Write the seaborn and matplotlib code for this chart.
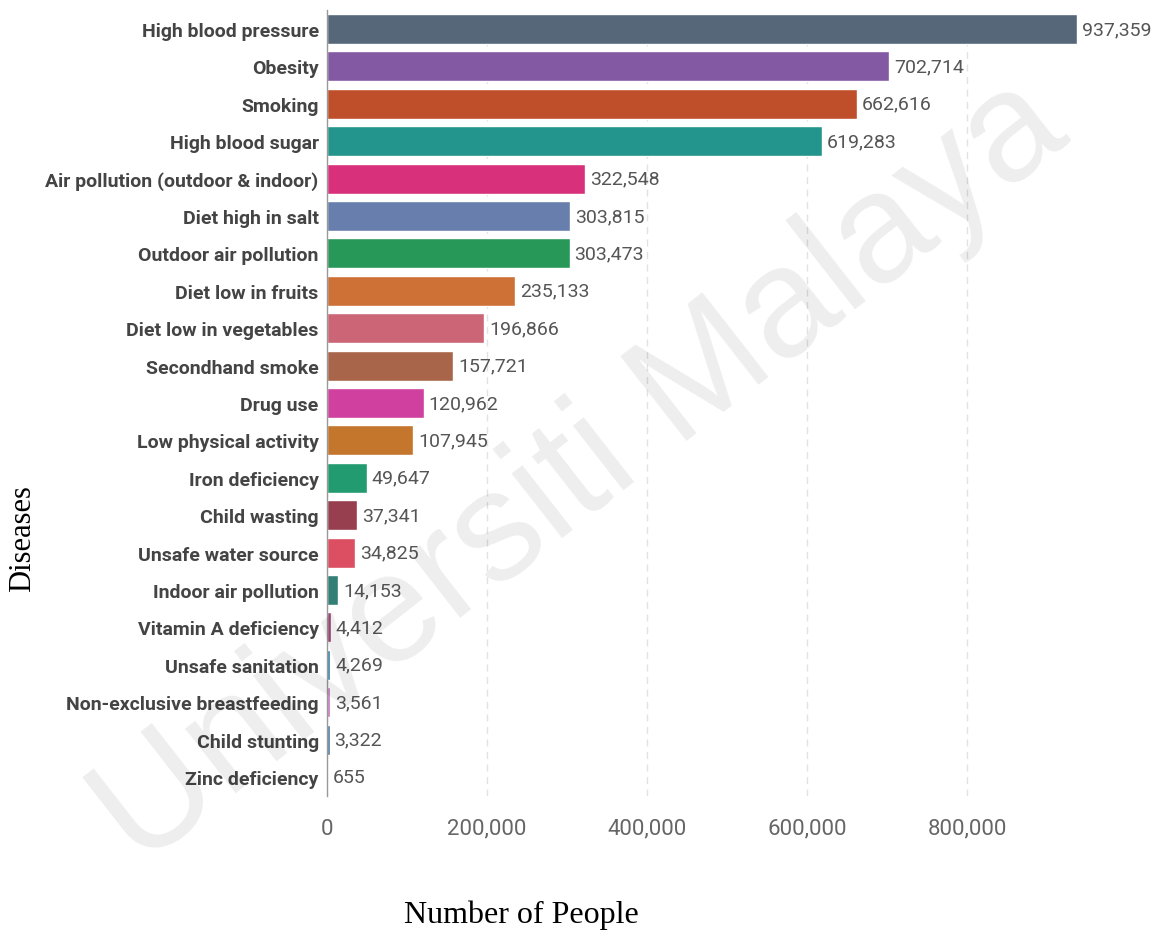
import matplotlib
matplotlib.use("Agg")
import matplotlib.pyplot as plt
import seaborn as sns
import pandas as pd

categories = ["High blood pressure", "Obesity", "Smoking", "High blood sugar",
              "Air pollution (outdoor & indoor)", "Diet high in salt", "Outdoor air pollution",
              "Diet low in fruits", "Diet low in vegetables", "Secondhand smoke", "Drug use",
              "Low physical activity", "Iron deficiency", "Child wasting", "Unsafe water source",
              "Indoor air pollution", "Vitamin A deficiency", "Unsafe sanitation",
              "Non-exclusive breastfeeding", "Child stunting", "Zinc deficiency"]
values = [937359, 702714, 662616, 619283, 322548, 303815, 303473, 235133, 196866, 157721,
          120962, 107945, 49647, 37341, 34825, 14153, 4412, 4269, 3561, 3322, 655]
colors = ["#56677a", "#8459a3", "#bf4f2b", "#24958c", "#d8307a", "#687fad", "#279858",
          "#cd7136", "#cc6676", "#a8654a", "#d0409e", "#c4762d", "#239b70", "#973f4f",
          "#dc4f62", "#347f75", "#9d4a7a", "#2f7ca8", "#c872b9", "#4a79a0", "#8a8a8a"]
xticks = [0, 200000, 400000, 600000, 800000]

sns.set_theme(style="white")
narrow = ["Roboto", "DejaVu Sans"]
plt.rcParams['font.family'] = narrow

df = pd.DataFrame({"Disease": categories, "People": values})

fig = plt.figure(figsize=(11.62, 9.45), dpi=100)
ax = fig.add_axes([0.2814, 0.157, 0.6885, 0.831])

sns.barplot(data=df, x="People", y="Disease", hue="Disease", palette=colors,
            legend=False, width=0.8, ax=ax, saturation=1, order=categories)

ax.set_xlim(0, 1000000)
ax.set_xticks(xticks)
ax.set_xticklabels([f"{v:,}" for v in xticks], fontsize=16, color="#666666")
ax.tick_params(axis="x", length=0, pad=16)
ax.tick_params(axis="y", length=0, pad=6)
for lab in ax.get_yticklabels():
    lab.set_fontsize(14)
    lab.set_fontweight("bold")
    lab.set_color("#444444")

ax.xaxis.grid(True, linestyle=(0, (5, 4)), color="#e2e2e2", linewidth=1)
ax.set_axisbelow(True)
for s in ["top", "right", "bottom"]:
    ax.spines[s].set_visible(False)
ax.spines["left"].set_color("#999999")
ax.spines["left"].set_linewidth(1)

for i, v in enumerate(values):
    ax.text(v + 6000, i, f"{v:,}", va="center", ha="left", fontsize=14, color="#555555")

ax.set_xlabel("")
ax.set_ylabel("")

fig.text(0.449, 0.032, "Number of People", family=["Liberation Serif", "DejaVu Serif"],
         fontsize=23, color="black", ha="center", va="center")
fig.text(0.019, 0.430, "Diseases", family=["Liberation Serif", "DejaVu Serif"],
         fontsize=22, color="black", ha="center", va="center", rotation=90)

# watermark
fig.text(0.5, 0.5, "Universiti Malaya", fontsize=112, color="#000000", alpha=0.07,
         rotation=38, ha="center", va="center", family=["Liberation Sans", "DejaVu Sans"],
         zorder=10)

fig.savefig("out.png", dpi=100)
